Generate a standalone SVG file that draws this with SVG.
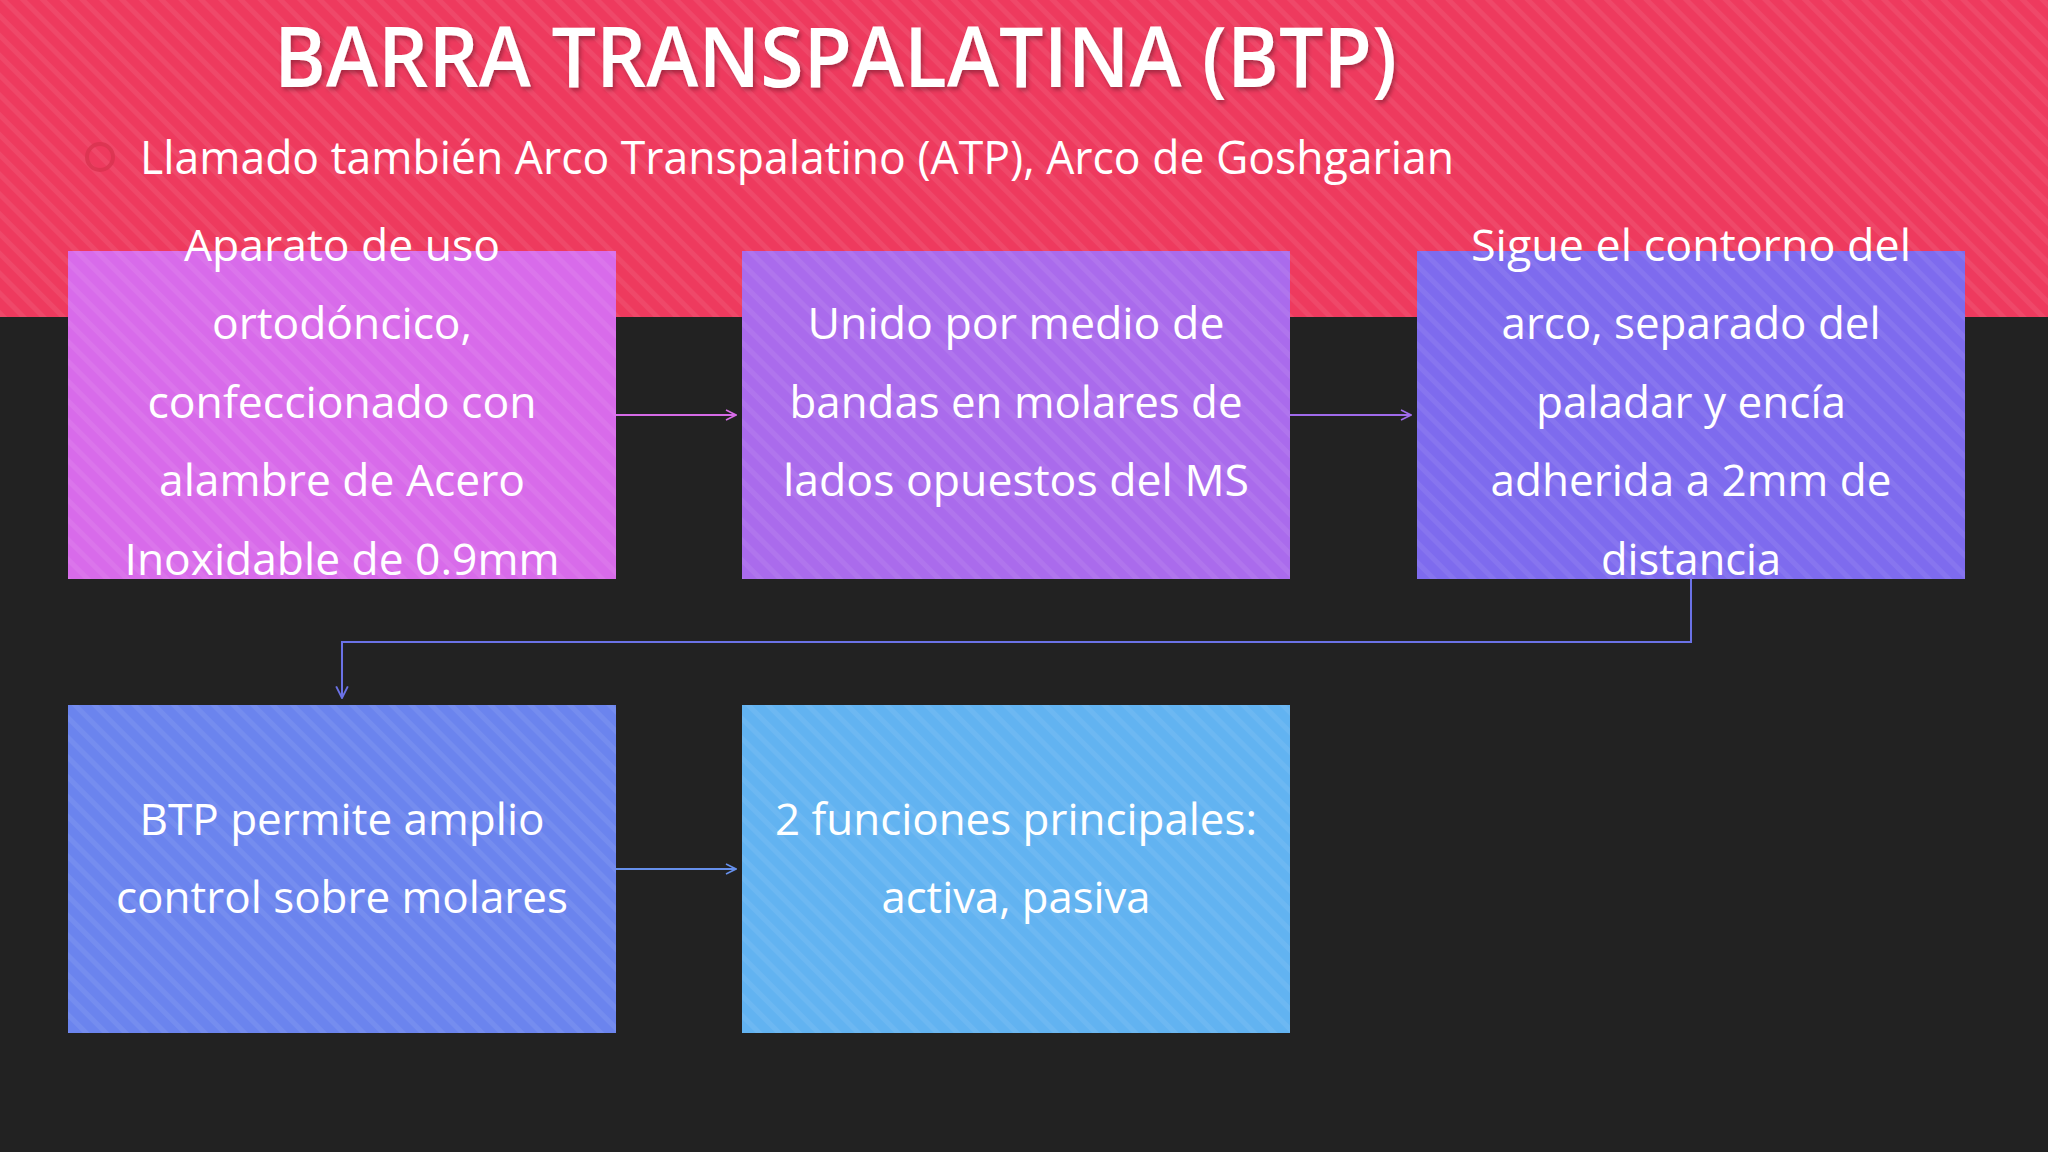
<svg xmlns="http://www.w3.org/2000/svg" width="2048" height="1152" viewBox="0 0 2048 1152">
<defs>
<pattern id="stripes" width="14" height="14" patternUnits="userSpaceOnUse" patternTransform="rotate(-45)">
<rect x="0" y="0" width="5" height="14" fill="#ffffff" fill-opacity="0.07"/>
</pattern>
<filter id="shadow" x="-5%" y="-20%" width="110%" height="140%">
<feDropShadow dx="2" dy="3" stdDeviation="2" flood-color="#000" flood-opacity="0.3"/>
</filter>
<marker id="arrPink" viewBox="0 0 12 12" refX="11" refY="6" markerWidth="12" markerHeight="12" markerUnits="userSpaceOnUse" orient="auto">
<path d="M1,1 L11,6 L1,11" fill="none" stroke="#D66BE6" stroke-width="1.6"/>
</marker>
<marker id="arrViolet" viewBox="0 0 12 12" refX="11" refY="6" markerWidth="12" markerHeight="12" markerUnits="userSpaceOnUse" orient="auto">
<path d="M1,1 L11,6 L1,11" fill="none" stroke="#A06BEB" stroke-width="1.6"/>
</marker>
<marker id="arrBlue" viewBox="0 0 12 12" refX="11" refY="6" markerWidth="14" markerHeight="14" markerUnits="userSpaceOnUse" orient="auto">
<path d="M1,1 L11,6 L1,11" fill="none" stroke="#6B72E6" stroke-width="1.6"/>
</marker>
<marker id="arrBlue2" viewBox="0 0 12 12" refX="11" refY="6" markerWidth="12" markerHeight="12" markerUnits="userSpaceOnUse" orient="auto">
<path d="M1,1 L11,6 L1,11" fill="none" stroke="#6690EC" stroke-width="1.6"/>
</marker>
</defs>
<style>
.t{font-family:"Open Sans","Noto Sans","DejaVu Sans",sans-serif;fill:#ffffff;}
.box{font-size:44px;text-anchor:middle;}
.conn{fill:none;stroke-width:2;}
</style>
<rect x="0" y="0" width="2048" height="1152" fill="#222222"/>
<rect x="0" y="0" width="2048" height="317" fill="#EE3A5E"/>
<rect x="0" y="0" width="2048" height="317" fill="url(#stripes)"/>

<g id="title">
<text class="t" x="274" y="87" font-size="84" font-weight="600" textLength="1123" lengthAdjust="spacingAndGlyphs" filter="url(#shadow)">BARRA TRANSPALATINA (BTP)</text>
</g>
<g id="subtitle">
<circle cx="100" cy="157" r="13" fill="none" stroke="#D8334F" stroke-width="4" opacity="0.8"/>
<text class="t" x="140" y="174" font-size="46" textLength="1314" lengthAdjust="spacingAndGlyphs">Llamado también Arco Transpalatino (ATP), Arco de Goshgarian</text>
</g>

<g id="node1">
<rect x="68" y="251" width="548" height="328" fill="#D86BEA"/>
<rect x="68" y="251" width="548" height="328" fill="url(#stripes)"/>
<text class="t box" x="342" y="261" textLength="316" lengthAdjust="spacingAndGlyphs">Aparato de uso</text>
<text class="t box" x="342" y="339" textLength="260" lengthAdjust="spacingAndGlyphs">ortodóncico,</text>
<text class="t box" x="342" y="418" textLength="389" lengthAdjust="spacingAndGlyphs">confeccionado con</text>
<text class="t box" x="342" y="496" textLength="366" lengthAdjust="spacingAndGlyphs">alambre de Acero</text>
<text class="t box" x="342" y="575" textLength="435" lengthAdjust="spacingAndGlyphs">Inoxidable de 0.9mm</text>
</g>

<g id="node2">
<rect x="742" y="251" width="548" height="328" fill="#AA6BEC"/>
<rect x="742" y="251" width="548" height="328" fill="url(#stripes)"/>
<text class="t box" x="1016" y="339" textLength="417" lengthAdjust="spacingAndGlyphs">Unido por medio de</text>
<text class="t box" x="1016" y="418" textLength="453" lengthAdjust="spacingAndGlyphs">bandas en molares de</text>
<text class="t box" x="1016" y="496" textLength="466" lengthAdjust="spacingAndGlyphs">lados opuestos del MS</text>
</g>

<g id="node3">
<rect x="1417" y="251" width="548" height="328" fill="#7E6BEE"/>
<rect x="1417" y="251" width="548" height="328" fill="url(#stripes)"/>
<text class="t box" x="1691" y="261" textLength="440" lengthAdjust="spacingAndGlyphs">Sigue el contorno del</text>
<text class="t box" x="1691" y="339" textLength="379" lengthAdjust="spacingAndGlyphs">arco, separado del</text>
<text class="t box" x="1691" y="418" textLength="310" lengthAdjust="spacingAndGlyphs">paladar y encía</text>
<text class="t box" x="1691" y="496" textLength="401" lengthAdjust="spacingAndGlyphs">adherida a 2mm de</text>
<text class="t box" x="1691" y="575" textLength="180" lengthAdjust="spacingAndGlyphs">distancia</text>
</g>

<g id="node4">
<rect x="68" y="705" width="548" height="328" fill="#6B84EE"/>
<rect x="68" y="705" width="548" height="328" fill="url(#stripes)"/>
<text class="t box" x="342" y="835" textLength="405" lengthAdjust="spacingAndGlyphs">BTP permite amplio</text>
<text class="t box" x="342" y="913" textLength="452" lengthAdjust="spacingAndGlyphs">control sobre molares</text>
</g>

<g id="node5">
<rect x="742" y="705" width="548" height="328" fill="#62B3F1"/>
<rect x="742" y="705" width="548" height="328" fill="url(#stripes)"/>
<text class="t box" x="1016" y="835" textLength="482" lengthAdjust="spacingAndGlyphs">2 funciones principales:</text>
<text class="t box" x="1016" y="913" textLength="269" lengthAdjust="spacingAndGlyphs">activa, pasiva</text>
</g>

<g id="connectors">
<path class="conn" d="M616,415 L736,415" stroke="#D66BE6" marker-end="url(#arrPink)"/>
<path class="conn" d="M1290,415 L1411,415" stroke="#A06BEB" marker-end="url(#arrViolet)"/>
<path class="conn" d="M1691,579 L1691,642 L342,642 L342,698" stroke="#6B72E6" marker-end="url(#arrBlue)"/>
<path class="conn" d="M616,869 L736,869" stroke="#6690EC" marker-end="url(#arrBlue2)"/>
</g>
</svg>
